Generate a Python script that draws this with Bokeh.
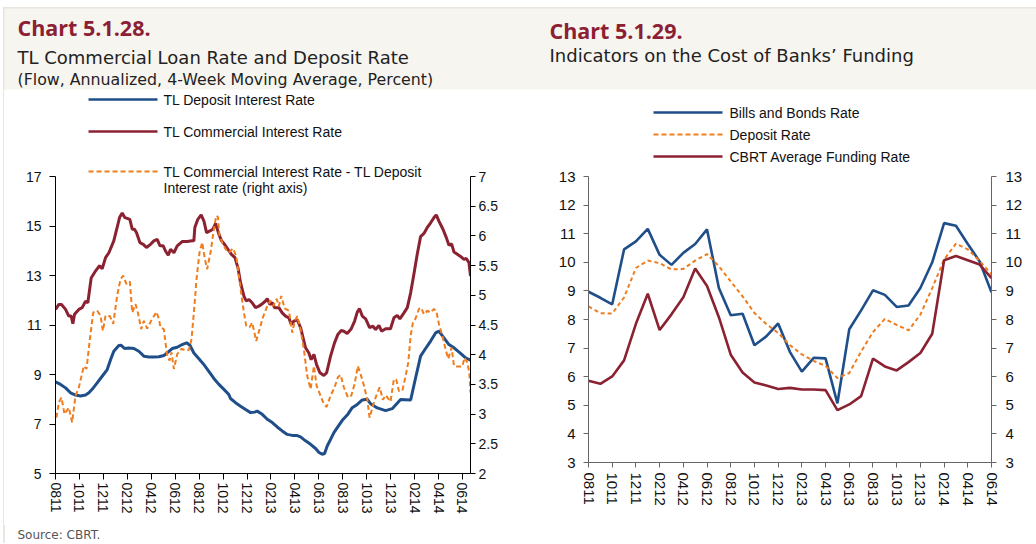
from bokeh.plotting import figure
from bokeh.models import Range1d, LinearAxis, FixedTicker, NumeralTickFormatter, Label, BoxAnnotation
from bokeh.layouts import row, column
from bokeh.embed import file_html
from bokeh.resources import INLINE

# ---------------- data ----------------
TICK_LABELS = ["0811", "1011", "1211", "0212", "0412", "0612", "0812", "1012", "1212",
               "0213", "0413", "0613", "0813", "1013", "1213", "0214", "0414", "0614"]
TICK_POS = [0, 2, 4, 6, 8, 10, 12, 14, 16, 18, 20, 22, 24, 26, 28, 30, 32, 34]  # months since Aug-2011

# Chart 5.1.28 (weekly, x = months since Aug-2011)
dep_m = [0.00, 0.42, 0.84, 1.25, 1.67, 2.09, 2.51, 2.79, 3.06, 3.48, 3.90, 4.32, 4.60, 4.87, 5.29, 5.49,
         5.77, 6.13, 6.55, 6.96, 7.38, 7.80, 8.22, 8.64, 9.05, 9.33, 9.75, 10.17, 10.58, 10.95, 11.23,
         11.56, 11.98, 12.40, 12.81, 13.23, 13.65, 14.07, 14.48, 14.62, 15.04, 15.46, 15.88, 16.30,
         16.63, 16.85, 17.27, 17.69, 18.11, 18.52, 18.94, 19.36, 19.78, 20.14, 20.47, 20.89, 21.31,
         21.73, 22.01, 22.28, 22.48, 22.70, 22.98, 23.26, 23.54, 23.96, 24.37, 24.79, 25.21, 25.63,
         26.04, 26.32, 26.88, 27.58, 28.13, 28.83, 29.67, 30.08, 30.50, 30.86, 31.34, 31.75, 32.03,
         32.45, 32.87, 33.29, 33.84, 34.26, 34.67]
dep_v = [8.70, 8.60, 8.46, 8.26, 8.17, 8.13, 8.17, 8.26, 8.40, 8.66, 8.93, 9.20, 9.60, 9.94, 10.17, 10.18,
         10.05, 10.07, 10.05, 9.94, 9.74, 9.71, 9.71, 9.72, 9.77, 9.87, 10.05, 10.10, 10.21, 10.28, 10.18,
         9.87, 9.64, 9.40, 9.13, 8.84, 8.60, 8.40, 8.19, 8.03, 7.86, 7.72, 7.59, 7.46,
         7.48, 7.52, 7.39, 7.19, 7.06, 6.88, 6.72, 6.58, 6.54, 6.54, 6.48, 6.32, 6.18,
         6.01, 5.85, 5.78, 5.81, 6.11, 6.38, 6.65, 6.85, 7.15, 7.36, 7.66, 7.79, 7.97,
         8.00, 7.82, 7.65, 7.54, 7.62, 7.99, 7.97, 8.86, 9.74, 10.01, 10.35, 10.68, 10.75,
         10.48, 10.21, 10.08, 9.85, 9.67, 9.58]

com_m = [0.00, 0.28, 0.50, 0.84, 1.11, 1.31, 1.45, 1.59, 1.95, 2.23, 2.51, 2.70, 2.98, 3.34, 3.68, 3.90,
         4.18, 4.46, 4.87, 5.15, 5.35, 5.57, 5.79, 5.99, 6.21, 6.41, 6.60, 6.77, 7.05, 7.33, 7.60, 7.94,
         8.22, 8.50, 8.72, 9.00, 9.19, 9.42, 9.61, 9.89, 10.17, 10.58, 11.00, 11.42, 11.56, 11.64, 11.89,
         12.17, 12.40, 12.62, 12.90, 13.15, 13.37, 13.65, 13.87, 14.12, 14.40, 14.68, 14.99, 15.24,
         15.46, 15.74, 15.93, 16.16, 16.43, 16.71, 16.99, 17.27, 17.55, 17.69, 17.91, 18.11, 18.30,
         18.66, 18.94, 19.22, 19.50, 19.69, 19.92, 20.19, 20.47, 20.89, 21.17, 21.36, 21.59, 21.81,
         22.09, 22.42, 22.65, 22.98, 23.31, 23.59, 23.87, 24.09, 24.37, 24.71, 24.99, 25.21, 25.40,
         25.63, 25.91, 26.24, 26.52, 26.74, 27.02, 27.24, 27.58, 27.99, 28.27, 28.55, 28.77, 29.11,
         29.39, 29.67, 29.94, 30.22, 30.50, 30.78, 31.06, 31.34, 31.62, 31.81, 32.03, 32.37, 32.65,
         32.87, 33.09, 33.29, 33.57, 33.84, 34.12, 34.32, 34.54, 34.67]
com_v = [11.63, 11.83, 11.83, 11.63, 11.36, 11.36, 11.05, 11.43, 11.63, 11.70, 11.96, 11.90, 12.90, 13.18,
         13.40, 13.27, 13.72, 13.92, 14.40, 14.94, 15.34, 15.52, 15.34, 15.31, 15.27, 14.87, 14.87, 14.73,
         14.33, 14.26, 14.13, 14.26, 14.40, 14.46, 14.20, 14.20, 13.99, 13.82, 14.06, 13.92, 14.20, 14.37,
         14.37, 14.40, 14.40, 14.94, 15.27, 15.45, 15.20, 14.73, 14.80, 14.87, 15.10, 14.67, 14.40, 14.26,
         14.06, 13.86, 13.72, 13.32, 12.71, 12.17, 11.97, 12.03, 11.90, 11.70, 11.76, 11.86, 11.97, 12.07,
         11.83, 11.90, 11.70, 11.70, 11.49, 11.36, 11.29, 11.02, 11.16, 11.22, 10.90, 10.08, 9.87, 9.60,
         9.81, 9.40, 9.07, 8.96, 9.07, 9.74, 10.28, 10.62, 10.78, 10.75, 10.66, 10.85, 11.16, 11.52, 11.66,
         11.36, 11.25, 10.89, 10.95, 10.82, 10.98, 10.75, 10.85, 10.85, 11.29, 11.39, 11.25, 11.49, 11.70,
         12.30, 13.05, 13.86, 14.57, 14.70, 14.94, 15.13, 15.34, 15.45, 15.20, 14.87, 14.53, 14.22, 14.28,
         13.95, 13.86, 13.77, 13.65, 13.69, 13.52, 12.98]

spr_m = [0.08, 0.28, 0.50, 0.75, 1.11, 1.39, 1.67, 1.95, 2.37, 2.59, 2.87, 3.15, 3.48, 3.76, 3.96, 4.18,
         4.54, 4.82, 5.15, 5.43, 5.65, 5.93, 6.21, 6.41, 6.69, 6.88, 7.16, 7.38, 7.66, 7.99, 8.44, 8.64,
         8.77, 9.05, 9.33, 9.53, 9.69, 9.89, 10.17, 10.53, 10.86, 11.14, 11.36, 11.56, 11.78, 12.03, 12.26,
         12.48, 12.67, 12.95, 13.23, 13.43, 13.57, 13.70, 13.93, 14.21, 14.48, 14.82, 15.10, 15.32, 15.54,
         15.74, 15.93, 16.21, 16.43, 16.77, 17.05, 17.33, 17.69, 17.97, 18.19, 18.47, 18.66, 18.86, 19.14,
         19.50, 19.78, 19.97, 20.19, 20.47, 20.75, 21.03, 21.31, 21.59, 21.81, 22.14, 22.42, 22.65, 22.98,
         23.31, 23.59, 23.82, 24.09, 24.43, 24.71, 24.99, 25.26, 25.49, 25.77, 26.04, 26.24, 26.52, 26.80,
         27.08, 27.35, 27.58, 27.99, 28.27, 28.47, 28.69, 28.97, 29.25, 29.47, 29.67, 29.86, 30.08, 30.36,
         30.56, 30.78, 31.06, 31.34, 31.62, 31.81, 32.03, 32.31, 32.59, 32.81, 33.09, 33.29, 33.57, 33.98,
         34.18, 34.40, 34.57, 34.67]
spr_v = [2.94, 3.20, 3.28, 3.00, 3.11, 2.86, 3.31, 3.45, 3.81, 3.76, 4.26, 4.71, 4.74, 4.66, 4.40, 4.66,
         4.65, 4.52, 4.99, 5.27, 5.33, 5.19, 5.23, 4.71, 4.85, 4.71, 4.43, 4.57, 4.44, 4.57, 4.72, 4.60,
         4.46, 4.43, 3.98, 3.90, 4.04, 3.76, 4.01, 4.10, 4.07, 4.08, 4.26, 4.71, 5.27, 5.72, 5.89,
         5.61, 5.44, 5.72, 6.11, 6.34, 6.32, 6.00, 5.89, 5.78, 5.72, 5.79, 5.66, 5.33, 4.99,
         4.71, 4.49, 4.46, 4.54, 4.23, 4.43, 4.63, 4.82, 4.91, 4.82, 4.94, 4.82, 4.99, 4.78,
         4.74, 4.37, 4.55, 4.65, 4.43, 4.09, 3.64, 3.42, 3.81, 3.48, 3.31, 3.17, 3.12, 3.31,
         3.45, 3.62, 3.66, 3.45, 3.28, 3.31, 3.51, 3.81, 3.67, 3.48, 3.25, 2.94, 3.14, 3.31,
         3.45, 3.24, 3.32, 3.21, 3.59, 3.58, 3.39, 3.39, 3.64, 3.87, 4.32, 4.54, 4.61, 4.77,
         4.79, 4.68, 4.74, 4.71, 4.77, 4.74, 4.52, 4.32, 4.09, 3.93, 4.12, 3.81, 3.80, 3.80,
         3.95, 3.87, 3.70, 3.36]

# Chart 5.1.29 (monthly, Aug-2011 .. Jun-2014)
months = list(range(35))
bills = [8.97, 8.76, 8.53, 10.45, 10.73, 11.17, 10.26, 9.91, 10.33, 10.64, 11.15, 9.10, 8.15, 8.20, 7.10,
         7.41, 7.86, 6.86, 6.18, 6.66, 6.64, 5.07, 7.66, 8.32, 9.02, 8.86, 8.44, 8.49, 9.10, 10.00, 11.37,
         11.28, 10.64, 10.03, 8.95]
deposit = [8.46, 8.22, 8.21, 8.77, 9.80, 10.06, 9.97, 9.75, 9.77, 10.06, 10.29, 9.86, 9.33, 8.81, 8.23,
           7.84, 7.53, 7.10, 6.78, 6.55, 6.38, 5.95, 6.13, 6.88, 7.56, 8.02, 7.81, 7.62, 8.17, 9.10, 10.10,
           10.65, 10.45, 10.05, 9.58]
cbrt = [5.86, 5.75, 6.01, 6.57, 7.85, 8.90, 7.63, 8.18, 8.78, 9.78, 9.17, 8.08, 6.77, 6.15, 5.80, 5.69,
        5.57, 5.61, 5.55, 5.55, 5.53, 4.83, 5.03, 5.32, 6.63, 6.36, 6.22, 6.51, 6.83, 7.50, 10.07, 10.22,
        10.07, 9.92, 9.45]

# ---------------- styles ----------------
BLUE = "#1f4e89"
RED = "#8b2232"
ORANGE = "#f07d1d"
TITLE_RED = "#8c1f33"
BEIGE = "#f7f5f0"
BORDER = "#d5ccbd"
HEAD_FONT = "Open Sans"
SUB_FONT = "DejaVu Sans"
AX_FONT = "Liberation Sans"
OVR = {p: lab for p, lab in zip(TICK_POS, TICK_LABELS)}


def blank_fig(w, h):
    p = figure(frame_width=w, frame_height=h, min_border=0, x_range=Range1d(0, 1), y_range=Range1d(0, 1),
               x_axis_location=None, y_axis_location=None, output_backend="svg", toolbar_location=None)
    p.xgrid.visible = False
    p.ygrid.visible = False
    p.outline_line_color = None
    p.background_fill_color = "white"
    p.border_fill_color = "white"
    return p


def base_fig(fw, fh, bl, br, bt, bb, xr, yr):
    p = figure(frame_width=fw, frame_height=fh, min_border_left=bl, min_border_right=br,
               min_border_top=bt, min_border_bottom=bb, x_range=xr, y_range=yr,
               output_backend="svg", toolbar_location=None)
    p.xgrid.visible = False
    p.ygrid.visible = False
    p.outline_line_color = None
    p.background_fill_color = "white"
    p.border_fill_color = "white"
    return p


def style_axis(ax, color, size, standoff, tick=6):
    ax.axis_line_color = color
    ax.axis_line_width = 1
    ax.major_tick_line_color = color
    ax.minor_tick_line_color = None
    ax.major_tick_in = 0
    ax.major_tick_out = tick
    ax.major_label_text_font = AX_FONT
    ax.major_label_text_font_size = size
    ax.major_label_text_color = "#111111"
    ax.major_label_standoff = standoff


def canvas_label(p, x, y, text, size, color="#111111", font=AX_FONT, style="normal"):
    # y is the vertical middle of the text, in canvas pixels from the top
    p.add_layout(Label(x=x, y=y, x_units="canvas", y_units="canvas", text=text,
                       text_font=font, text_font_size=size, text_color=color,
                       text_font_style=style, text_baseline="middle", text_align="left"))


def canvas_box(p, l, r, t, b, color, level="underlay"):
    p.add_layout(BoxAnnotation(left=l, right=r, top=t, bottom=b, left_units="canvas",
                               right_units="canvas", top_units="canvas", bottom_units="canvas",
                               fill_color=color, fill_alpha=1.0, line_color=None, level=level))


def legend_solid(p, x0, x1, y, color):
    canvas_box(p, x0, x1, y - 1.3, y + 1.3, color, "overlay")


def legend_dashed(p, x0, x1, y, color, dash=5, gap=3):
    x = x0
    while x < x1:
        canvas_box(p, x, min(x + dash, x1), y - 1, y + 1, color, "overlay")
        x += dash + gap


# ---------------- header (titles band) ----------------
W = 1036
HH = 90
hdr = blank_fig(W, HH)
canvas_box(hdr, 3, W, 7, 8, BORDER)
canvas_box(hdr, 3, 4, 7, HH, BORDER)
canvas_box(hdr, 4, W, 8, 89, BEIGE)
canvas_label(hdr, 17, 27, "Chart 5.1.28.", "21.5px", TITLE_RED, HEAD_FONT, "bold")
canvas_label(hdr, 17, 57, "TL Commercial Loan Rate and Deposit Rate", "18px", "#222222", SUB_FONT)
canvas_label(hdr, 17, 79, "(Flow, Annualized, 4-Week Moving Average, Percent)", "15.8px", "#222222", SUB_FONT)
canvas_label(hdr, 549, 30, "Chart 5.1.29.", "21.5px", TITLE_RED, HEAD_FONT, "bold")
canvas_label(hdr, 549, 55, "Indicators on the Cost of Banks\u2019 Funding", "18px", "#222222", SUB_FONT)

# ---------------- left border strip ----------------
CH = 434
strip = blank_fig(4, CH)
canvas_box(strip, 3, 4, 0, CH, BORDER)

# ---------------- Chart 5.1.28 ----------------
PX1 = 24.75  # pixels per unit, left axis
FH1 = 383
p1 = base_fig(415, FH1, 51, 50, 0, CH - FH1, Range1d(0, 34.67), Range1d(5, 5 + FH1 / PX1))
p1.extra_y_ranges = {"spread": Range1d(2, 2 + FH1 / (PX1 * 2.4))}

p1.line(dep_m, dep_v, line_color=BLUE, line_width=3)
p1.line(com_m, com_v, line_color=RED, line_width=3)
p1.line(spr_m, spr_v, line_color=ORANGE, line_width=2, line_dash="5 3", y_range_name="spread")

ax = p1.xaxis[0]
ax.ticker = FixedTicker(ticks=TICK_POS)
ax.major_label_overrides = OVR
ax.major_label_orientation = "vertical"
style_axis(ax, "#000000", "14px", 3)
ay = p1.yaxis[0]
ay.ticker = FixedTicker(ticks=[5, 7, 9, 11, 13, 15, 17])
ay.bounds = (5, 17)
style_axis(ay, "#000000", "14px", 8)
ar = LinearAxis(y_range_name="spread", ticker=FixedTicker(ticks=[2, 2.5, 3, 3.5, 4, 4.5, 5, 5.5, 6, 6.5, 7]),
                formatter=NumeralTickFormatter(format="0.[0]"))
ar.bounds = (2, 7)
style_axis(ar, "#000000", "14px", 3, tick=5)
p1.add_layout(ar, "right")

# legend (canvas coords of this figure: page x - 4, page y - 90)
legend_solid(p1, 84, 153, 9, BLUE)
legend_solid(p1, 84, 153, 41, RED)
legend_dashed(p1, 84, 153, 81, ORANGE)
canvas_label(p1, 159, 9, "TL Deposit Interest Rate", "14px")
canvas_label(p1, 159, 41, "TL Commercial Interest Rate", "14px")
canvas_label(p1, 159, 81, "TL Commercial Interest Rate - TL Deposit", "14px")
canvas_label(p1, 159, 97, "Interest rate (right axis)", "14px")

# ---------------- Chart 5.1.29 ----------------
PX2 = 28.6
FH2 = 372
p2 = base_fig(403, FH2, 68, 45, 0, CH - FH2, Range1d(0, 34), Range1d(3, 3 + FH2 / PX2))
p2.extra_y_ranges = {"r": Range1d(3, 3 + FH2 / PX2)}

p2.line(months, bills, line_color=BLUE, line_width=2.6)
p2.line(months, deposit, line_color=ORANGE, line_width=2, line_dash="4 3")
p2.line(months, cbrt, line_color=RED, line_width=2.6)

GRAY = "#666666"
bx = p2.xaxis[0]
bx.ticker = FixedTicker(ticks=TICK_POS)
bx.major_label_overrides = OVR
bx.major_label_orientation = "vertical"
style_axis(bx, GRAY, "15px", 5, tick=5)
by = p2.yaxis[0]
by.ticker = FixedTicker(ticks=list(range(3, 14)))
by.bounds = (3, 13)
style_axis(by, GRAY, "15px", 8, tick=5)
br = LinearAxis(y_range_name="r", ticker=FixedTicker(ticks=list(range(3, 14))))
br.bounds = (3, 13)
style_axis(br, GRAY, "15px", 9, tick=5)
p2.add_layout(br, "right")

# legend (canvas coords: page x - 520, page y - 90)
legend_solid(p2, 133, 202, 22, BLUE)
legend_dashed(p2, 133, 202, 44, ORANGE)
legend_solid(p2, 133, 202, 66, RED)
canvas_label(p2, 209, 22, "Bills and Bonds Rate", "14px")
canvas_label(p2, 209, 44, "Deposit Rate", "14px")
canvas_label(p2, 209, 66, "CBRT Average Funding Rate", "14px")

# ---------------- footer ----------------
FTH = 19
ftr = blank_fig(W, FTH)
canvas_box(ftr, 3, 4, 0, FTH, BORDER)
canvas_label(ftr, 17, 10, "Source: CBRT.", "12px", "#555555", SUB_FONT)

layout = column(hdr, row(strip, p1, p2), ftr)
open("out.html", "w").write(file_html(layout, INLINE))
